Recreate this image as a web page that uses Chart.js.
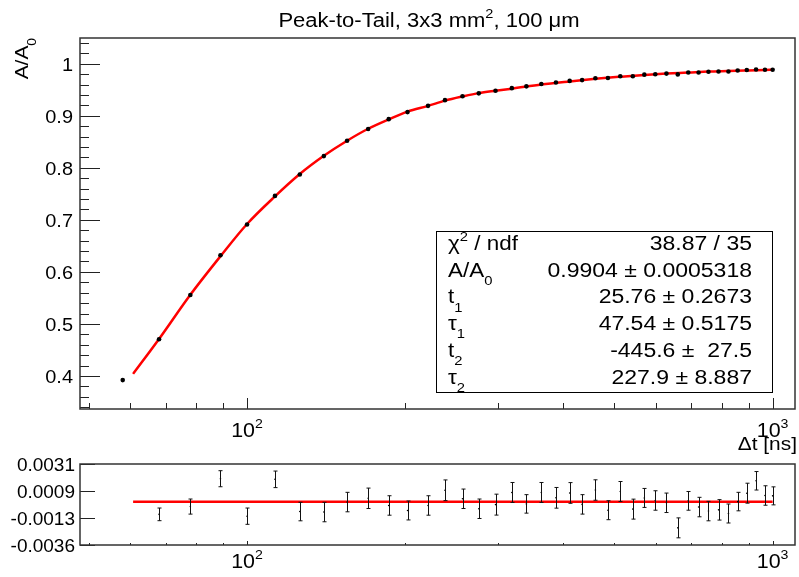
<!DOCTYPE html>
<html>
<head>
<meta charset="utf-8">
<script src="https://cdn.jsdelivr.net/npm/chart.js@4.4.1/dist/chart.umd.min.js"></script>
<style>
  body { margin: 0; background: #fff; }
  #wrap { position: relative; width: 799px; height: 577px; overflow: hidden; }
  #topBox { position: absolute; left: 0; top: 0; }
  #botBox { position: absolute; left: 0; top: 440px; }
</style>
</head>
<body>
<div id="wrap">
  <div id="topBox"><canvas id="fitChart" width="799" height="460"></canvas></div>
  <div id="botBox"><canvas id="resChart" width="799" height="137"></canvas></div>
</div>
<script>
// measured points (delta t in ns, A/A0)
const dtValues = [58, 68, 78, 89, 100, 113, 126, 140, 155, 170, 186, 202, 221, 238, 257, 276, 297, 319, 340, 363,
                  387, 411, 434, 460, 486, 513, 542, 570, 598, 628, 660, 691, 723, 755, 789, 824, 858, 893, 930, 967, 1000];
const ratioValues = [0.392, 0.4705, 0.5555, 0.632, 0.691, 0.746, 0.787, 0.8225, 0.852, 0.8745,
                     0.8935, 0.907, 0.919, 0.930, 0.9375, 0.943, 0.948, 0.953, 0.9565, 0.961,
                     0.964, 0.967, 0.9685, 0.972, 0.9725, 0.976, 0.976, 0.979, 0.9797, 0.981,
                     0.9795, 0.983, 0.983, 0.9846, 0.985, 0.985, 0.987, 0.988, 0.989, 0.9885, 0.9885];

// fit curve
const fitDt = [60.7, 68, 78, 89, 100, 113, 126, 140, 155, 170, 186, 202, 221, 238, 257, 276, 297, 319, 363, 411,
               460, 513, 570, 628, 691, 755, 824, 893, 965, 1000];
const fitRatio = [0.404, 0.471, 0.556, 0.630, 0.692, 0.745, 0.788, 0.823, 0.852, 0.875,
                  0.893, 0.908, 0.919, 0.929, 0.937, 0.9435, 0.948, 0.952, 0.960, 0.966,
                  0.971, 0.975, 0.9785, 0.981, 0.983, 0.985, 0.986, 0.987, 0.988, 0.9885];

// residuals (points inside fit range)
const resDt = dtValues.slice(1);
const resValues = [-0.00103, -0.00039, 0.0019, -0.00118, 0.00185, -0.0008, -0.00084, -0.00002, 0.00029, -0.0003,
                   -0.00071, -0.0003, 0.00095, 0.00025, -0.00057, -0.00023, 0.00077, -0.00017, 0.00077, 0.00033,
                   0.00073, -0.00021, 0.00097, -0.00069, 0.00085, -0.0006, 0.00032, 0.00011, -0.00008, -0.00214,
                   0.00008, -0.00043, -0.00076, -0.00066, -0.00096, 0.00002, 0.00071, 0.00173, 0.00052, 0.00049];
const resErrors = [0.00052, 0.00062, 0.00066, 0.00067, 0.00068, 0.00076, 0.0008, 0.0008, 0.00084, 0.0008,
                   0.00078, 0.0008, 0.00085, 0.0008, 0.0008, 0.00086, 0.00082, 0.00076, 0.00082, 0.00085,
                   0.00085, 0.0008, 0.00084, 0.00078, 0.00082, 0.00082, 0.00078, 0.0008, 0.0008, 0.00082,
                   0.00077, 0.0008, 0.0008, 0.00084, 0.00078, 0.00076, 0.00082, 0.00076, 0.0008, 0.00074];
const fitRange = [60.7, 1000];
const zeroLine = [0, 0];

// axis ticks
const xMajorTicks = [100, 1000];
const xMajorLabels = ['2', '3'];
const xMinorTicks = [50, 60, 70, 80, 90, 200, 300, 400, 500, 600, 700, 800, 900];
const ratioTicks = [0.4, 0.5, 0.6, 0.7, 0.8, 0.9, 1.0];
const ratioLabels = ['0.4', '0.5', '0.6', '0.7', '0.8', '0.9', '1'];
const ratioMinor = [0.34, 0.36, 0.38, 0.42, 0.44, 0.46, 0.48, 0.52, 0.54, 0.56, 0.58, 0.62, 0.64, 0.66, 0.68,
                    0.72, 0.74, 0.76, 0.78, 0.82, 0.84, 0.86, 0.88, 0.92, 0.94, 0.96, 0.98, 1.02, 1.04];
const resTicks = [-0.00355, -0.00133, 0.00089, 0.00311];
const resLabels = ['-0.0036', '-0.0013', '0.0009', '0.0031'];

// fit stats box
const statNames = [[['χ'], ['2', 'sup'], [' / ndf']], [['A/A'], ['0', 'sub']], [['t'], ['1', 'sub']],
                   [['τ'], ['1', 'sub']], [['t'], ['2', 'sub']], [['τ'], ['2', 'sub']]];
const statValues = ['38.87 / 35', '0.9904 ± 0.0005318', '25.76 ± 0.2673', '47.54 ± 0.5175', '-445.6 ±  27.5', '227.9 ± 8.887'];

const FONT = '"Liberation Sans", Arial, Helvetica, sans-serif';

function richWidth(ctx, parts, size) {
    let w = 0;
    parts.forEach(p => {
        ctx.font = (p[1] ? size * 0.66 : size) + 'px ' + FONT;
        w += ctx.measureText(p[0]).width;
    });
    return w;
}

function drawRich(ctx, parts, x, y, size, align, sx) {
    sx = sx || 1;
    const w = richWidth(ctx, parts, size) * sx;
    let x0 = x;
    if (align === 'right') x0 = x - w;
    else if (align === 'center') x0 = x - w / 2;
    ctx.save();
    ctx.translate(x0, y);
    ctx.scale(sx, 1);
    ctx.fillStyle = '#000';
    ctx.textAlign = 'left';
    ctx.textBaseline = 'alphabetic';
    let cx = 0;
    parts.forEach(p => {
        ctx.font = (p[1] ? size * 0.66 : size) + 'px ' + FONT;
        const dy = p[1] === 'sup' ? -size * 0.44 : (p[1] === 'sub' ? size * 0.42 : 0);
        ctx.fillText(p[0], cx, dy);
        cx += ctx.measureText(p[0]).width;
    });
    ctx.restore();
}

function line(ctx, x1, y1, x2, y2) {
    ctx.beginPath();
    ctx.moveTo(x1, y1);
    ctx.lineTo(x2, y2);
    ctx.stroke();
}

const topDecor = {
    id: 'topDecor',
    afterDraw(chart) {
        const ctx = chart.ctx, ca = chart.chartArea;
        const xs = chart.scales.x, ys = chart.scales.y;
        ctx.save();
        ctx.strokeStyle = '#222';
        ctx.lineWidth = 1;
        xMinorTicks.forEach(v => { const px = Math.round(xs.getPixelForValue(v)) + 0.5; line(ctx, px, ca.bottom, px, ca.bottom - 6); });
        xMajorTicks.forEach(v => { const px = Math.round(xs.getPixelForValue(v)) + 0.5; line(ctx, px, ca.bottom, px, ca.bottom - 11); });
        ratioMinor.forEach(v => { const py = Math.round(ys.getPixelForValue(v)) + 0.5; line(ctx, ca.left, py, ca.left + 9, py); });
        ratioTicks.forEach(v => { const py = Math.round(ys.getPixelForValue(v)) + 0.5; line(ctx, ca.left, py, ca.left + 20, py); });
        ctx.lineWidth = 1.5;
        ctx.strokeStyle = '#333';
        ctx.strokeRect(ca.left, ca.top, ca.right - ca.left, ca.bottom - ca.top);

        ratioTicks.forEach((v, i) => drawRich(ctx, [[ratioLabels[i]]], ca.left - 7, ys.getPixelForValue(v) + 7, 19, 'right', 1.05));
        xMajorTicks.forEach((v, i) => drawRich(ctx, [['10'], [xMajorLabels[i], 'sup']], xs.getPixelForValue(v), 437, 19.5, 'center', 1.1));
        drawRich(ctx, [['Δt [ns]']], 797, 450, 19, 'right', 1.1);
        drawRich(ctx, [['Peak-to-Tail, 3x3 mm'], ['2', 'sup'], [', 100 μm']], 429, 27, 19.5, 'center', 1.13);

        ctx.save();
        ctx.translate(28, 38);
        ctx.rotate(-Math.PI / 2);
        drawRich(ctx, [['A/A'], ['0', 'sub']], 0, 0, 19, 'right', 1.1);
        ctx.restore();

        // stats box
        const bx = 436, by = 231, bw = 336, bh = 161;
        ctx.fillStyle = '#fff';
        ctx.fillRect(bx, by, bw, bh);
        ctx.lineWidth = 1;
        ctx.strokeStyle = '#000';
        ctx.strokeRect(bx + 0.5, by + 0.5, bw, bh);
        statNames.forEach((parts, i) => {
            const base = 250 + i * 26.7;
            drawRich(ctx, parts, 448, base, 19.5, 'left', 1.15);
            drawRich(ctx, [[statValues[i]]], 752, base, 19.5, 'right', 1.18);
        });
        ctx.restore();
    }
};

const errorBars = {
    id: 'errorBars',
    afterDatasetsDraw(chart) {
        const ctx = chart.ctx, xs = chart.scales.x, ys = chart.scales.y;
        ctx.save();
        ctx.strokeStyle = '#111';
        ctx.lineWidth = 1;
        resDt.forEach((t, i) => {
            const px = Math.round(xs.getPixelForValue(t)) + 0.5;
            const yTop = ys.getPixelForValue(resValues[i] + resErrors[i]);
            const yBot = ys.getPixelForValue(resValues[i] - resErrors[i]);
            line(ctx, px, yTop, px, yBot);
            line(ctx, px - 2, yTop, px + 2, yTop);
            line(ctx, px - 2, yBot, px + 2, yBot);
        });
        ctx.restore();
    },
    afterDraw(chart) {
        const ctx = chart.ctx, ca = chart.chartArea;
        const xs = chart.scales.x, ys = chart.scales.y;
        ctx.save();
        ctx.strokeStyle = '#222';
        ctx.lineWidth = 1;
        xMinorTicks.forEach(v => { const px = Math.round(xs.getPixelForValue(v)) + 0.5; line(ctx, px, ca.bottom, px, ca.bottom - 2); });
        xMajorTicks.forEach(v => { const px = Math.round(xs.getPixelForValue(v)) + 0.5; line(ctx, px, ca.bottom, px, ca.bottom - 4); });
        resTicks.forEach(v => { const py = Math.round(ys.getPixelForValue(v)) + 0.5; line(ctx, ca.left, py, ca.left + 15, py); });
        ctx.lineWidth = 1.5;
        ctx.strokeStyle = '#333';
        ctx.strokeRect(ca.left, ca.top, ca.right - ca.left, ca.bottom - ca.top);
        resTicks.forEach((v, i) => drawRich(ctx, [[resLabels[i]]], ca.left - 5, ys.getPixelForValue(v) + 7, 19, 'right', 1.0));
        xMajorTicks.forEach((v, i) => drawRich(ctx, [['10'], [xMajorLabels[i], 'sup']], xs.getPixelForValue(v), 128, 19.5, 'center', 1.1));
        ctx.restore();
    }
};

const xRange = { min: 48.1, max: 1103 };

new Chart(document.getElementById('fitChart'), {
    type: 'scatter',
    data: {
        datasets: [
            { type: 'scatter', data: dtValues.map((t, i) => ({ x: t, y: ratioValues[i] })),
              backgroundColor: '#000', borderWidth: 0, pointRadius: 2.3, order: 0 },
            { type: 'line', data: fitDt.map((t, i) => ({ x: t, y: fitRatio[i] })),
              borderColor: '#ff0000', borderWidth: 2.5, pointRadius: 0, fill: false,
              cubicInterpolationMode: 'monotone', order: 1 }
        ]
    },
    options: {
        responsive: false,
        animation: false,
        layout: { padding: { left: 80, top: 38, right: 2, bottom: 51 } },
        plugins: { legend: { display: false }, tooltip: { enabled: false } },
        scales: {
            x: { type: 'logarithmic', min: xRange.min, max: xRange.max, display: false },
            y: { type: 'linear', min: 0.3365, max: 1.0494, display: false }
        }
    },
    plugins: [topDecor]
});

new Chart(document.getElementById('resChart'), {
    type: 'scatter',
    data: {
        datasets: [
            { type: 'scatter', data: resDt.map((t, i) => ({ x: t, y: resValues[i] })),
              backgroundColor: '#000', borderWidth: 0, pointRadius: 0.8, order: 0 },
            { type: 'line', data: fitRange.map((t, i) => ({ x: t, y: zeroLine[i] })),
              borderColor: '#ff0000', borderWidth: 2.5, pointRadius: 0, fill: false, order: 1 }
        ]
    },
    options: {
        responsive: false,
        animation: false,
        layout: { padding: { left: 80, top: 24, right: 2, bottom: 32 } },
        plugins: { legend: { display: false }, tooltip: { enabled: false } },
        scales: {
            x: { type: 'logarithmic', min: xRange.min, max: xRange.max, display: false },
            y: { type: 'linear', min: -0.00355, max: 0.00311, display: false }
        }
    },
    plugins: [errorBars]
});
</script>
</body>
</html>
